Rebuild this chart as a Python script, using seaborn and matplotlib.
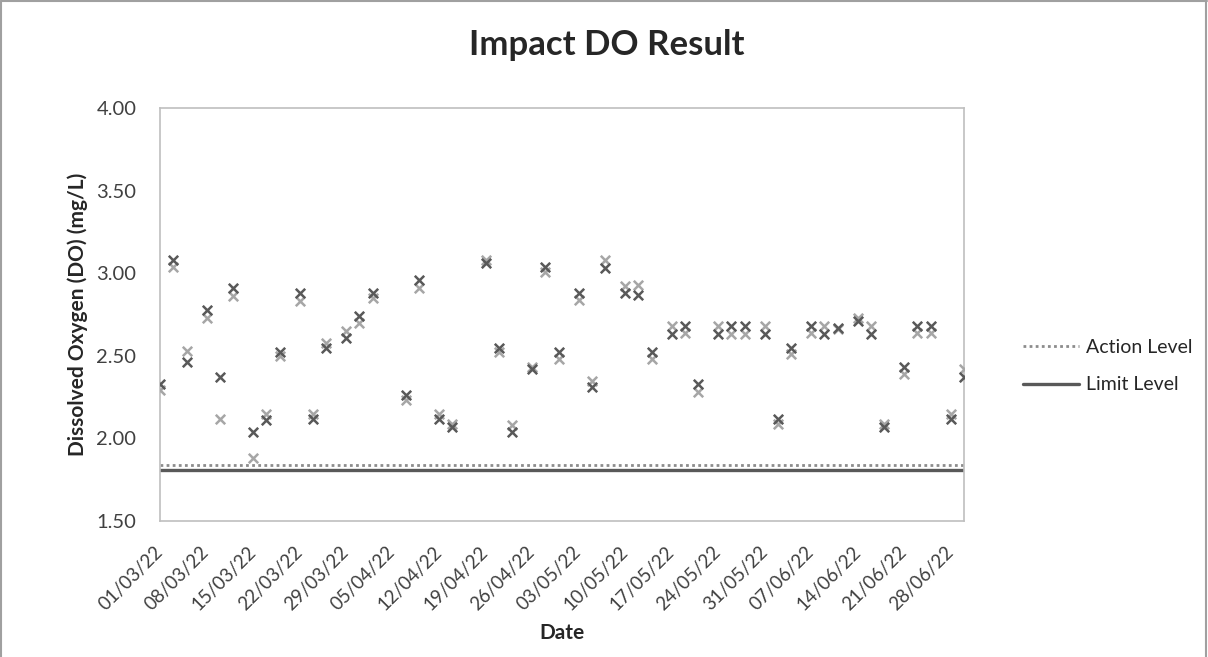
import matplotlib
matplotlib.use("Agg")
import matplotlib.pyplot as plt
from matplotlib.lines import Line2D
import seaborn as sns
import pandas as pd

# ---- data ----
sample_dates = ["01/03/22", "03/03/22", "05/03/22", "08/03/22", "10/03/22", "12/03/22",
                "15/03/22", "17/03/22", "19/03/22", "22/03/22", "24/03/22", "26/03/22",
                "29/03/22", "31/03/22", "02/04/22", "07/04/22", "09/04/22", "12/04/22",
                "14/04/22", "19/04/22", "21/04/22", "23/04/22", "26/04/22", "28/04/22",
                "30/04/22", "03/05/22", "05/05/22", "07/05/22", "10/05/22", "12/05/22",
                "14/05/22", "17/05/22", "19/05/22", "21/05/22", "24/05/22", "26/05/22",
                "28/05/22", "31/05/22", "02/06/22", "04/06/22", "07/06/22", "09/06/22",
                "11/06/22", "14/06/22", "16/06/22", "18/06/22", "21/06/22", "23/06/22",
                "25/06/22", "28/06/22", "30/06/22"]
do_dark = [2.33, 3.08, 2.46, 2.78, 2.37, 2.91, 2.04, 2.11, 2.52, 2.88, 2.12, 2.55,
           2.61, 2.74, 2.88, 2.26, 2.96, 2.12, 2.07, 3.06, 2.55, 2.04, 2.42, 3.04,
           2.52, 2.88, 2.31, 3.03, 2.88, 2.87, 2.52, 2.63, 2.68, 2.33, 2.63, 2.68,
           2.68, 2.63, 2.12, 2.55, 2.68, 2.63, 2.67, 2.71, 2.63, 2.07, 2.43, 2.68,
           2.68, 2.12, 2.37]
do_light = [2.29, 3.04, 2.53, 2.73, 2.12, 2.86, 1.88, 2.15, 2.50, 2.83, 2.15, 2.58,
            2.65, 2.70, 2.85, 2.23, 2.91, 2.15, 2.09, 3.08, 2.52, 2.08, 2.43, 3.01,
            2.48, 2.84, 2.35, 3.08, 2.92, 2.93, 2.48, 2.68, 2.64, 2.28, 2.68, 2.63,
            2.63, 2.68, 2.09, 2.51, 2.64, 2.68, 2.66, 2.73, 2.68, 2.09, 2.39, 2.64,
            2.64, 2.15, 2.42]
action_level = 1.84
limit_level = 1.81
x_range = ["01/03/22", "30/06/22"]
tick_labels = ["01/03/22", "08/03/22", "15/03/22", "22/03/22", "29/03/22", "05/04/22",
               "12/04/22", "19/04/22", "26/04/22", "03/05/22", "10/05/22", "17/05/22",
               "24/05/22", "31/05/22", "07/06/22", "14/06/22", "21/06/22", "28/06/22"]
y_ticks = [1.50, 2.00, 2.50, 3.00, 3.50, 4.00]

# ---- style ----
sns.set_style("white")
plt.rcParams["font.family"] = ["Lato", "DejaVu Sans"]

W, H = 1208, 657
fig = plt.figure(figsize=(W / 100, H / 100), dpi=100)
ax = fig.add_axes([160 / W, 1 - 521 / H, (964 - 160) / W, (521 - 108) / H])

to_dt = lambda s: pd.to_datetime(s, format="%d/%m/%y")
df = pd.DataFrame({"date": to_dt(pd.Series(sample_dates)),
                   "dark": do_dark, "light": do_light})
xr = to_dt(pd.Series(x_range))

sns.scatterplot(data=df, x="date", y="light", marker="x", s=46, color="#A6A6A6",
                linewidth=1.8, ax=ax, legend=False, zorder=3)
sns.scatterplot(data=df, x="date", y="dark", marker="x", s=46, color="#595959",
                linewidth=1.8, ax=ax, legend=False, zorder=4)

lv = pd.DataFrame({"date": list(xr) * 2,
                   "val": [action_level] * 2 + [limit_level] * 2,
                   "lvl": ["Action Level"] * 2 + ["Limit Level"] * 2})
sns.lineplot(data=lv[lv.lvl == "Action Level"], x="date", y="val", ax=ax,
             color="#8C8C8C", linestyle=(0, (1, 1.2)), linewidth=2.0,
             label="Action Level", zorder=2)
sns.lineplot(data=lv[lv.lvl == "Limit Level"], x="date", y="val", ax=ax,
             color="#595959", linestyle="-", linewidth=2.4,
             label="Limit Level", zorder=2)

ax.set_xlim(xr.iloc[0], xr.iloc[1])
ax.set_ylim(1.5, 4.0)
ax.set_yticks(y_ticks)
ax.set_yticklabels([f"{v:.2f}" for v in y_ticks], fontsize=14.5, color="#404040")
ax.set_xticks(to_dt(pd.Series(tick_labels)))
ax.set_xticklabels(tick_labels, rotation=45, ha="right", va="center",
                   rotation_mode="anchor", fontsize=13.5, color="#404040")
ax.tick_params(axis="both", length=0)
ax.tick_params(axis="y", pad=17)
ax.tick_params(axis="x", pad=20)

for sp in ax.spines.values():
    sp.set_color("#BFBFBF")
    sp.set_linewidth(1.2)

ax.set_xlabel("Date", fontsize=15, fontweight="bold", va="center")
ax.xaxis.set_label_coords(0.5, -(633 - 521) / 413)
ax.set_ylabel("Dissolved Oxygen (DO) (mg/L)", fontsize=15, fontweight="bold", va="center")
ax.yaxis.set_label_coords(-(160 - 78) / 804, 0.5)

fig.text(607 / W, 1 - 45 / H, "Impact DO Result", fontsize=25, fontweight="bold",
         ha="center", va="center")

leg = ax.legend(loc="center left", bbox_to_anchor=(1.052, 0.375), frameon=False,
                fontsize=14, handlelength=2.85, labelspacing=1.06, handletextpad=0.36)

# figure border (Excel chart area)
for xs, ys in [([0.001, 0.001], [0, 0.998]), ([0.001, 0.999], [0.998, 0.998]),
               ([0.998, 0.998], [0, 0.998])]:
    fig.add_artist(Line2D(xs, ys, transform=fig.transFigure, color="#A0A0A0", lw=1.5))

fig.savefig("out.png", dpi=100)
